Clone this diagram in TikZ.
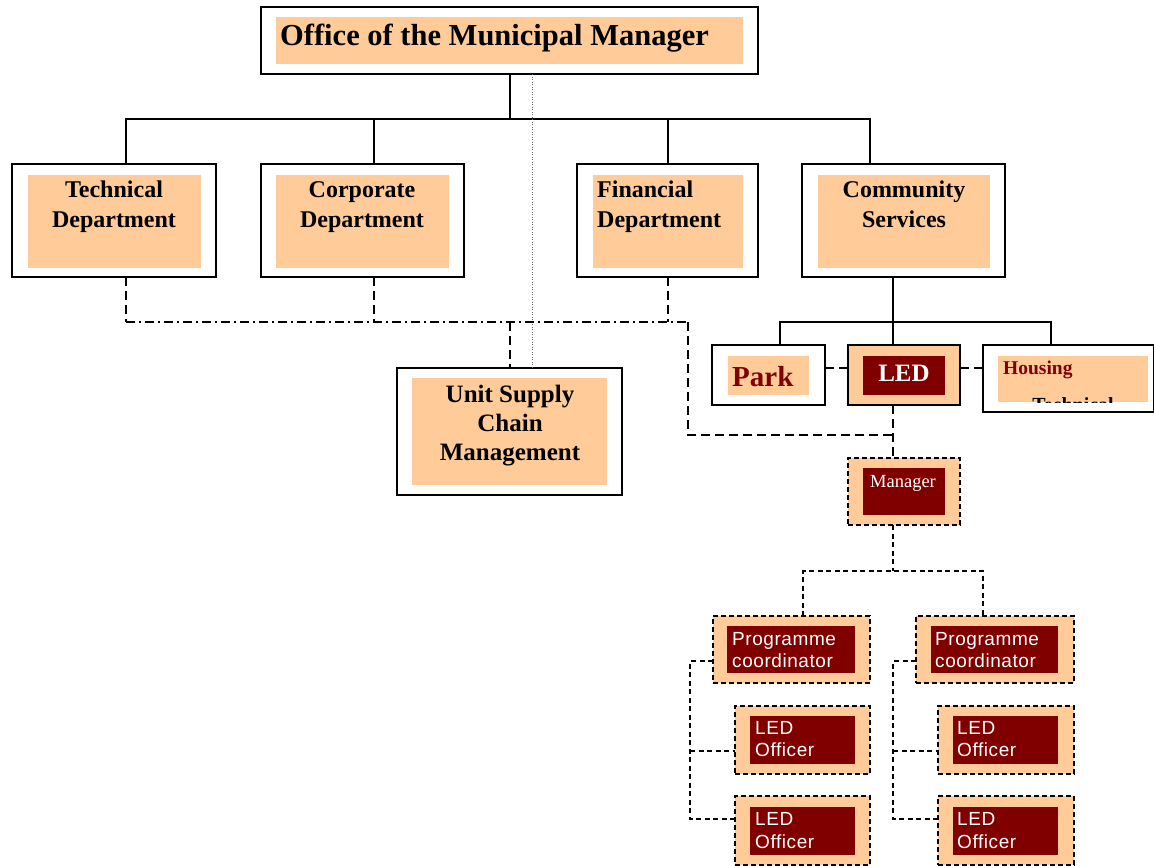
\documentclass[tikz,border=0pt]{standalone}
\usepackage{fontspec}
\setmainfont{Liberation Serif}
\newfontfamily\sansf[LetterSpace=3]{Liberation Sans}
\definecolor{peach}{HTML}{FFCC99}
\definecolor{maroon}{HTML}{800000}
\tikzset{
  sz/.style 2 args={minimum width=#1pt,minimum height=#2pt,inner sep=0pt,outer sep=0pt},
  outerbox/.style={draw=black,line width=1.6pt,fill=white},
  outerpeach/.style={draw=black,line width=1.6pt,fill=peach},
  dashbox/.style={draw=black,line width=1.4pt,fill=peach,dash pattern=on 5pt off 3pt},
  innerpeach/.style={fill=peach},
  innerred/.style={fill=maroon},
  conn/.style={line width=1.3pt},
  dconn/.style={line width=1.3pt,dash pattern=on 9pt off 5pt},
  ddconn/.style={line width=1.3pt,dash pattern=on 9pt off 4pt on 2pt off 4pt},
  sconn/.style={line width=1.2pt,dash pattern=on 5pt off 3.5pt},
  dotconn/.style={line width=1pt,black!60,dash pattern=on 1pt off 1.5pt},
  headtxt/.style={inner sep=0pt,font=\fontsize{24}{30}\selectfont\bfseries},
  sanstxt/.style={inner sep=0pt,text=white,align=left,font=\fontsize{19}{22.5}\selectfont\sansf},
}
\begin{document}
\begin{tikzpicture}[x=1pt,y=-1pt]
\useasboundingbox (0,0) rectangle (1154,865);
% top
\node[outerbox,sz={497}{67}] (top) at (509.5,40.5) {};
\node[innerpeach,sz={467}{47}] (topi) at (509.5,40.5) {};
\node[anchor=base west,inner sep=0pt,font=\fontsize{30.5}{34}\selectfont\bfseries] (topt) at (280,45) {Office of the Municipal Manager};
% departments
\node[outerbox,sz={204}{113}] (tech) at (114,220.5) {};
\node[innerpeach,sz={173}{93}] (techi) at (114.5,221.5) {};
\node[headtxt,anchor=north,align=center] (techt) at (114,181) {Technical\\Department};
\node[outerbox,sz={203}{113}] (corp) at (362.5,220.5) {};
\node[innerpeach,sz={173}{93}] (corpi) at (362.5,221.5) {};
\node[headtxt,anchor=north,align=center] (corpt) at (362,181) {Corporate\\Department};
\node[outerbox,sz={181}{113}] (fin) at (667.5,220.5) {};
\node[innerpeach,sz={150}{93}] (fini) at (668,221.5) {};
\node[headtxt,anchor=north west,align=left] (fint) at (597,181) {Financial\\Department};
\node[outerbox,sz={203}{113}] (comm) at (903.5,220.5) {};
\node[innerpeach,sz={172}{93}] (commi) at (904,221.5) {};
\node[headtxt,anchor=north,align=center] (commt) at (904,181) {Community\\Services};
% unit supply
\node[outerbox,sz={225}{127}] (usc) at (509.5,431.5) {};
\node[innerpeach,sz={195}{107}] (usci) at (509.5,431.5) {};
\node[inner sep=0pt,anchor=north,align=center,font=\fontsize{25}{29}\selectfont\bfseries] (usct) at (510,385) {Unit Supply\\Chain\\Management};
% community sub units
\node[outerbox,sz={113}{60}] (park) at (768.5,375) {};
\node[innerpeach,sz={81}{39}] (parki) at (768.5,375.5) {};
\node[anchor=base west,inner sep=0pt,text=maroon,font=\fontsize{29}{34}\selectfont\bfseries] (parkt) at (732,386) {Park};
\node[outerpeach,sz={112}{60}] (led) at (904,375) {};
\node[innerred,sz={82}{39}] (ledi) at (904,375.5) {};
\node[anchor=base,inner sep=0pt,text=white,font=\fontsize{25}{30}\selectfont\bfseries] (ledt) at (904,381) {LED};
\node[outerbox,sz={171}{67}] (hous) at (1068.5,378.5) {};
\node[innerpeach,sz={150}{46}] (housi) at (1073,379) {};
\node[anchor=base west,inner sep=0pt,text=maroon,font=\fontsize{19.5}{23}\selectfont\bfseries] (houst) at (1003,374) {Housing};
\begin{scope}
\clip (998,356) rectangle (1148,402);
\node[anchor=base,inner sep=0pt,font=\fontsize{20}{24}\selectfont\bfseries] (houst2) at (1073,411) {Technical};
\end{scope}
% LED unit
\node[dashbox,sz={112}{67}] (mgr) at (904,491.5) {};
\node[innerred,sz={82}{47}] (mgri) at (904,491.5) {};
\node[anchor=base,inner sep=0pt,text=white,font=\fontsize{18.5}{22}\selectfont] (mgrt) at (903,487) {Manager};
\node[dashbox,sz={157}{67}] (pcl) at (791.5,649.5) {};
\node[innerred,sz={128}{47}] (pcli) at (791,649.5) {};
\node[sanstxt,anchor=north west] (pclt) at (732,632) {Programme\\coordinator};
\node[dashbox,sz={158}{67}] (pcr) at (995,649.5) {};
\node[innerred,sz={127}{47}] (pcri) at (994.5,649.5) {};
\node[sanstxt,anchor=north west] (pcrt) at (935,632) {Programme\\coordinator};
\node[dashbox,sz={135}{68}] (ol1) at (802.5,740) {};
\node[innerred,sz={105}{48}] (ol1i) at (802.5,740) {};
\node[sanstxt,anchor=north west] (ol1t) at (755,721) {LED\\Officer};
\node[dashbox,sz={135}{69}] (ol2) at (802.5,830.5) {};
\node[innerred,sz={105}{48}] (ol2i) at (802.5,831) {};
\node[sanstxt,anchor=north west] (ol2t) at (755,812.5) {LED\\Officer};
\node[dashbox,sz={136}{68}] (or1) at (1006,740) {};
\node[innerred,sz={105}{48}] (or1i) at (1005.5,740) {};
\node[sanstxt,anchor=north west] (or1t) at (957,721) {LED\\Officer};
\node[dashbox,sz={136}{69}] (or2) at (1006,830.5) {};
\node[innerred,sz={105}{48}] (or2i) at (1005.5,831) {};
\node[sanstxt,anchor=north west] (or2t) at (957,812.5) {LED\\Officer};
% solid tree
\coordinate (bus) at (510,119);
\draw[conn] (top.south -| bus) -- (bus);
\draw[conn] ([xshift=12pt]tech.north) |- (bus);
\draw[conn] (bus) -| ([xshift=-33.5pt]comm.north);
\draw[conn] ([xshift=11.5pt]corp.north) -- ([xshift=11.5pt]corp.north |- bus);
\draw[conn] ([xshift=0.5pt]fin.north) -- ([xshift=0.5pt]fin.north |- bus);
% dotted
\draw[dotconn] ([xshift=22.5pt]top.south) -- ([xshift=22.5pt]top.south |- usc.north);
% dash dot
\coordinate (dd) at (510,322);
\coordinate (ddr) at (688,322);
\draw[dconn] ([xshift=12pt]tech.south) -- ([xshift=12pt]tech.south |- dd);
\draw[dconn] ([xshift=11.5pt]corp.south) -- ([xshift=11.5pt]corp.south |- dd);
\draw[dconn] ([xshift=0.5pt]fin.south) -- ([xshift=0.5pt]fin.south |- dd);
\draw[ddconn] ([xshift=12pt]tech.south |- dd) -- (ddr);
\draw[dconn] (dd) -- (usc.north -| dd);
\draw[dconn] (ddr) |- (893,435);
% community subtree
\coordinate (cbus) at (893,322);
\draw[conn] ([xshift=-10.5pt]comm.south) -- (cbus);
\draw[conn] ([xshift=11.5pt]park.north) |- (cbus) -| ([xshift=-17.5pt]hous.north);
\draw[conn] (cbus) -- ([xshift=-11pt]led.north);
\draw[dconn] ([yshift=7pt]park.east) -- ([yshift=7pt]led.west);
\draw[dconn] ([yshift=7pt]led.east) -- ([yshift=10.5pt]hous.west);
\draw[dconn] ([xshift=-11pt]led.south) -- ([xshift=-11pt]mgr.north);
% LED tree
\coordinate (mbus) at (893,571);
\draw[sconn] ([xshift=-11pt]mgr.south) -- (mbus);
\draw[sconn] ([xshift=11.5pt]pcl.north) |- (mbus) -| ([xshift=-12pt]pcr.north);
\draw[sconn] ([yshift=-11.5pt]pcl.west) -| (690,819) -- ([yshift=11.5pt]ol2.west);
\draw[sconn] (690,751) -- ([yshift=-11pt]ol1.west);
\draw[sconn] ([yshift=-11.5pt]pcr.west) -| (893,819) -- ([yshift=11.5pt]or2.west);
\draw[sconn] (893,751) -- ([yshift=-11pt]or1.west);
\end{tikzpicture}
\end{document}
